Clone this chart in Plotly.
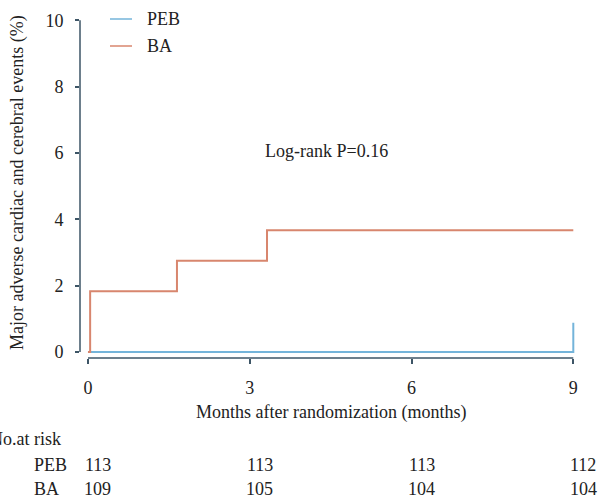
import plotly.graph_objects as go

# ---- data ----
ba_time = [0, 0.04, 1.65, 3.32, 9.0]
ba_pct = [0, 1.83, 2.75, 3.67, 3.67]
peb_time = [0, 9.0, 9.0]
peb_pct = [0, 0, 0.88]

risk_times = [0, 3, 6, 9]
peb_risk = [113, 113, 113, 112]
ba_risk = [109, 105, 104, 104]

x_ticks = [0, 3, 6, 9]
y_ticks = [0, 2, 4, 6, 8, 10]

series_names = ["PEB", "BA"]

FONT = "Liberation Serif, Times New Roman, DejaVu Serif, serif"
TXT = "#222222"
AX = "#3d5566"
PEB_C = "#74b4da"
BA_C = "#d8866e"
FS = 18

fig = go.Figure()
fig.add_trace(go.Scatter(x=peb_time, y=peb_pct, mode="lines", name=series_names[0],
                         line=dict(color=PEB_C, width=2, shape="hv")))
fig.add_trace(go.Scatter(x=ba_time, y=ba_pct, mode="lines", name=series_names[1],
                         line=dict(color=BA_C, width=2, shape="hv")))

W, H = 598, 501
L, R, T, B = 80, 22, 17, 143
pw, ph = W - L - R, H - T - B

def py(pix):
    return (H - B - pix) / ph

def px(pix):
    return (pix - L) / pw

# axis lines (detached, base-R style)
fig.add_shape(type="line", xref="paper", yref="y", x0=0, x1=0, y0=0, y1=10,
              line=dict(color=AX, width=1.5))
fig.add_shape(type="line", xref="x", yref="paper", x0=0, x1=9, y0=0, y1=0,
              line=dict(color=AX, width=1.5))

ann = []
# manual legend
for name, col, ypix in [(series_names[0], PEB_C, 19), (series_names[1], BA_C, 46)]:
    fig.add_shape(type="line", xref="paper", yref="paper", x0=px(110), x1=px(132),
                  y0=py(ypix), y1=py(ypix), line=dict(color=col, width=1.5))
    ann.append(dict(text=name, x=px(145), y=py(ypix), xref="paper", yref="paper",
                    xanchor="left", yanchor="middle", showarrow=False,
                    font=dict(family=FONT, size=FS, color=TXT)))

ann.append(dict(text="Log-rank P=0.16", x=4.43, y=6.06, xref="x", yref="y",
                showarrow=False, font=dict(family=FONT, size=FS, color=TXT)))
ann.append(dict(text="Major adverse cardiac and cerebral events (%)", textangle=-90,
                x=px(17), y=py(183), xref="paper", yref="paper", showarrow=False,
                xanchor="center", yanchor="middle",
                font=dict(family=FONT, size=FS, color=TXT)))
ann.append(dict(text="Months after randomization (months)", x=4.5, y=py(412),
                xref="x", yref="paper", showarrow=False, yanchor="middle",
                font=dict(family=FONT, size=FS, color=TXT)))
ann.append(dict(text="No.at risk", x=px(63), y=py(439), xref="paper", yref="paper",
                xanchor="right", yanchor="middle", showarrow=False,
                font=dict(family=FONT, size=FS, color=TXT)))
for lab, vals, ypix in [("PEB", peb_risk, 465), ("BA", ba_risk, 489)]:
    ann.append(dict(text=lab, x=px(32), y=py(ypix), xref="paper", yref="paper",
                    xanchor="left", yanchor="middle", showarrow=False,
                    font=dict(family=FONT, size=FS, color=TXT)))
    for t, v in zip(risk_times, vals):
        ann.append(dict(text=str(v), x=t, y=py(ypix), xref="x", yref="paper",
                        xanchor="center", yanchor="middle", xshift=10, showarrow=False,
                        font=dict(family=FONT, size=FS, color=TXT)))

fig.update_layout(
    width=W, height=H,
    margin=dict(l=L, r=R, t=T, b=B, pad=0, autoexpand=False),
    paper_bgcolor="white", plot_bgcolor="white",
    font=dict(family=FONT, size=FS, color=TXT),
    showlegend=False,
    annotations=ann,
    xaxis=dict(range=[-0.148, 9.05], tickvals=x_ticks, ticks="outside", ticklen=5,
               tickcolor=AX, tickwidth=1.5, showline=False, showgrid=False,
               zeroline=False, ticklabelstandoff=8, automargin=False,
               tickfont=dict(family=FONT, size=FS, color=TXT)),
    yaxis=dict(range=[-0.18, 10.1], tickvals=y_ticks, ticks="outside", ticklen=4,
               tickcolor=AX, tickwidth=1.5, showline=False, showgrid=False,
               zeroline=False, ticklabelstandoff=8, automargin=False,
               tickfont=dict(family=FONT, size=FS, color=TXT)),
)

fig.write_html("out.html")
